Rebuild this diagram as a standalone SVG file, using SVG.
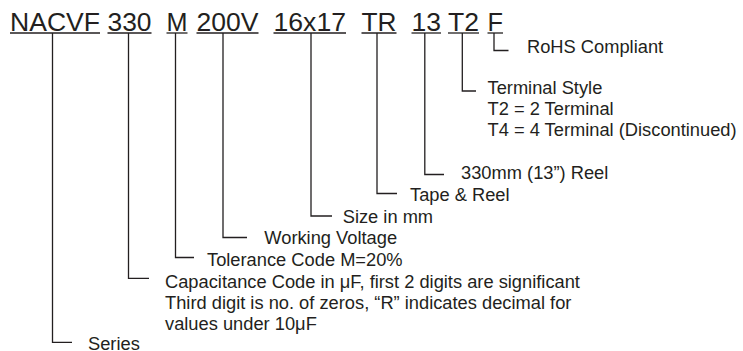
<svg xmlns="http://www.w3.org/2000/svg" width="743" height="351" viewBox="0 0 743 351">
<style>
.code{font-family:"Liberation Sans",Arial,sans-serif;font-size:25px;fill:#231f20}
.lbl{font-family:"Liberation Sans",Arial,sans-serif;font-size:18.3px;fill:#231f20}
.ul{stroke:#231f20;stroke-width:1.3;fill:none}
.con{stroke:#231f20;stroke-width:1.3;fill:none}
</style>
<rect width="743" height="351" fill="#fff"/>
<g id="code">
<g id="c-nacvf"><text class="code" x="10" y="30.5" textLength="90" lengthAdjust="spacingAndGlyphs">NACVF</text><line class="ul" x1="10" y1="33" x2="100" y2="33"/></g>
<g id="c-330"><text class="code" x="107.5" y="30.5" textLength="44" lengthAdjust="spacingAndGlyphs">330</text><line class="ul" x1="107.5" y1="33" x2="151.5" y2="33"/></g>
<g id="c-m"><text class="code" x="166.5" y="30.5" textLength="21" lengthAdjust="spacingAndGlyphs">M</text><line class="ul" x1="166.5" y1="33" x2="187.5" y2="33"/></g>
<g id="c-200v"><text class="code" x="196.5" y="30.5" textLength="62" lengthAdjust="spacingAndGlyphs">200V</text><line class="ul" x1="196.5" y1="33" x2="258.5" y2="33"/></g>
<g id="c-16x17"><text class="code" x="273.5" y="30.5" textLength="72.5" lengthAdjust="spacingAndGlyphs">16x17</text><line class="ul" x1="273.5" y1="33" x2="346" y2="33"/></g>
<g id="c-tr"><text class="code" x="361.5" y="30.5" textLength="35" lengthAdjust="spacingAndGlyphs">TR</text><line class="ul" x1="361.5" y1="33" x2="396.5" y2="33"/></g>
<g id="c-13"><text class="code" x="411.5" y="30.5" textLength="29.5" lengthAdjust="spacingAndGlyphs">13</text><line class="ul" x1="411.5" y1="33" x2="441" y2="33"/></g>
<g id="c-t2"><text class="code" x="448" y="30.5" textLength="31" lengthAdjust="spacingAndGlyphs">T2</text><line class="ul" x1="448" y1="33" x2="479" y2="33"/></g>
<g id="c-f"><text class="code" x="487.5" y="30.5" textLength="15.5" lengthAdjust="spacingAndGlyphs">F</text><line class="ul" x1="487.5" y1="33" x2="503" y2="33"/></g>
</g>
<g id="connectors">
<path class="con" d="M52.5 33V342.3H72"/>
<path class="con" d="M128.5 33V278.3H149"/>
<path class="con" d="M175.5 33V257.5H194"/>
<path class="con" d="M223 33V237.5H247"/>
<path class="con" d="M311 33V216H332"/>
<path class="con" d="M377 33V193.5H397"/>
<path class="con" d="M424.8 33V174.5H444"/>
<path class="con" d="M462.3 33V91H476"/>
<path class="con" d="M494 33V50.5H508.5"/>
</g>
<g id="l-rohs"><text class="lbl" x="527" y="52.7">RoHS Compliant</text></g>
<g id="l-terminal"><text class="lbl" x="487.5" y="94.3">Terminal Style</text><text class="lbl" x="487.5" y="115">T2 = 2 Terminal</text><text class="lbl" x="487.5" y="135.7">T4 = 4 Terminal (Discontinued)</text></g>
<g id="l-reel"><text class="lbl" x="461" y="179">330mm (13”) Reel</text></g>
<g id="l-tape"><text class="lbl" x="410" y="201">Tape &amp; Reel</text></g>
<g id="l-size"><text class="lbl" x="342.7" y="222.7">Size in mm</text></g>
<g id="l-voltage"><text class="lbl" x="264.3" y="244">Working Voltage</text></g>
<g id="l-tolerance"><text class="lbl" x="207" y="266">Tolerance Code M=20%</text></g>
<g id="l-capacitance"><text class="lbl" x="165" y="287.7">Capacitance Code in μF, first 2 digits are significant</text><text class="lbl" x="165" y="309">Third digit is no. of zeros, “R” indicates decimal for</text><text class="lbl" x="165" y="330">values under 10μF</text></g>
<g id="l-series"><text class="lbl" x="88" y="349.5">Series</text></g>
</svg>
